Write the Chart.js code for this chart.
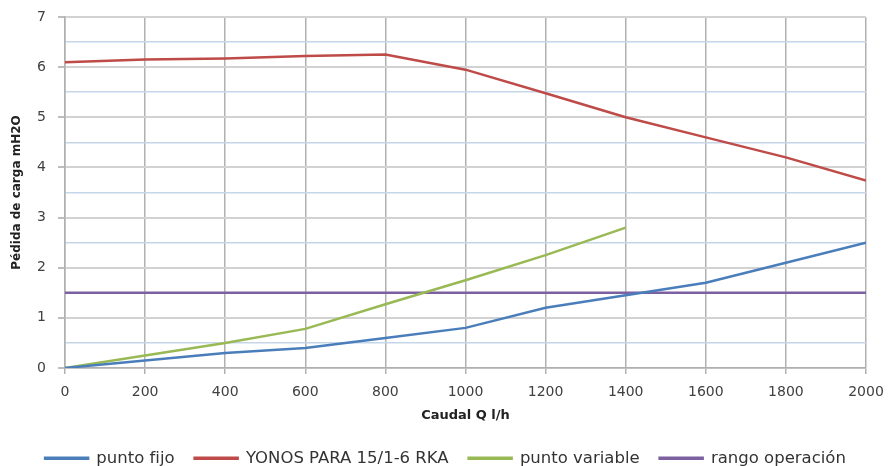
<!DOCTYPE html>
<html lang="es">
<head>
<meta charset="UTF-8">
<title>Pérdida de carga</title>
<script src="https://cdn.jsdelivr.net/npm/chart.js@4.4.1/dist/chart.umd.min.js"></script>
<style>
    html, body { margin: 0; padding: 0; background: #fff; }
    #wrap { width: 891px; height: 466px; position: relative; }
</style>
</head>
<body>
<div id="wrap"><canvas id="chart"></canvas></div>
<script>
// Caudal Q (l/h)
const caudal = [0, 200, 400, 600, 800, 1000, 1200, 1400, 1600, 1800, 2000];

// Pérdida de carga (mH2O)
const puntoFijo = [0, 0.15, 0.3, 0.4, 0.6, 0.8, 1.2, 1.45, 1.7, 2.1, 2.5];
const yonos = [6.1, 6.15, 6.17, 6.22, 6.25, 5.95, 5.48, 5.0, 4.6, 4.2, 3.74];
const puntoVariable = [0, 0.25, 0.5, 0.78, 1.27, 1.75, 2.25, 2.8];
const rangoOperacion = [1.5, 1.5, 1.5, 1.5, 1.5, 1.5, 1.5, 1.5, 1.5, 1.5, 1.5];

const toPoints = vals => vals.map((v, i) => ({ x: caudal[i], y: v }));

const font = "'DejaVu Sans', sans-serif";

new Chart(document.getElementById('chart'), {
    type: 'line',
    data: {
        datasets: [
            { label: 'punto fijo', data: toPoints(puntoFijo), borderColor: '#4a7ebb', backgroundColor: '#4a7ebb' },
            { label: 'YONOS PARA 15/1-6 RKA', data: toPoints(yonos), borderColor: '#be4b48', backgroundColor: '#be4b48' },
            { label: 'punto variable', data: toPoints(puntoVariable), borderColor: '#98b954', backgroundColor: '#98b954' },
            { label: 'rango operación', data: toPoints(rangoOperacion), borderColor: '#7d60a0', backgroundColor: '#7d60a0' }
        ]
    },
    options: {
        responsive: true,
        maintainAspectRatio: false,
        animation: false,
        layout: { padding: { top: 17, right: 0, left: 0, bottom: 0 } },
        elements: {
            line: { borderWidth: 2.5, tension: 0 },
            point: { radius: 0 }
        },
        scales: {
            x: {
                type: 'linear',
                min: 0,
                max: 2000,
                afterFit: s => { s.height = 62; s.paddingRight = 25; },
                ticks: {
                    stepSize: 200,
                    color: '#404040',
                    font: { family: font, size: 14 },
                    padding: 10,
                    callback: v => String(v)
                },
                grid: { color: '#b0b0b0', tickLength: 6, lineWidth: 1.5 },
                border: { color: '#b0b0b0', width: 1.5 },
                title: { display: true, text: 'Caudal Q l/h', color: '#222', font: { family: font, size: 13, weight: 'bold' }, padding: { top: 0, bottom: 7 } }
            },
            y: {
                min: 0,
                max: 7,
                afterFit: s => { s.width = 65; s.paddingTop = 0; },
                ticks: {
                    stepSize: 0.5,
                    color: '#404040',
                    font: { family: font, size: 14 },
                    padding: 12,
                    callback: v => Number.isInteger(v) ? v : ''
                },
                grid: {
                    color: c => Number.isInteger(c.tick.value) ? '#d2d2d2' : '#c5d5ea',
                    tickColor: c => Number.isInteger(c.tick.value) ? '#bdbdbd' : 'rgba(0,0,0,0)',
                    lineWidth: c => Number.isInteger(c.tick.value) ? 2 : 1.5,
                    tickLength: 7
                },
                border: { color: '#b0b0b0', width: 1.5 },
                title: { display: true, text: 'Pédida de carga mH2O', color: '#222', font: { family: font, size: 12, weight: 'bold' }, padding: { top: 10, bottom: 0 } }
            }
        },
        plugins: {
            legend: {
                position: 'bottom',
                maxHeight: 36,
                labels: {
                    boxWidth: 43,
                    boxHeight: 1,
                    color: '#333',
                    padding: 20,
                    font: { family: font, size: 16.5 }
                }
            },
            tooltip: { enabled: false }
        }
    }
});
</script>
</body>
</html>
